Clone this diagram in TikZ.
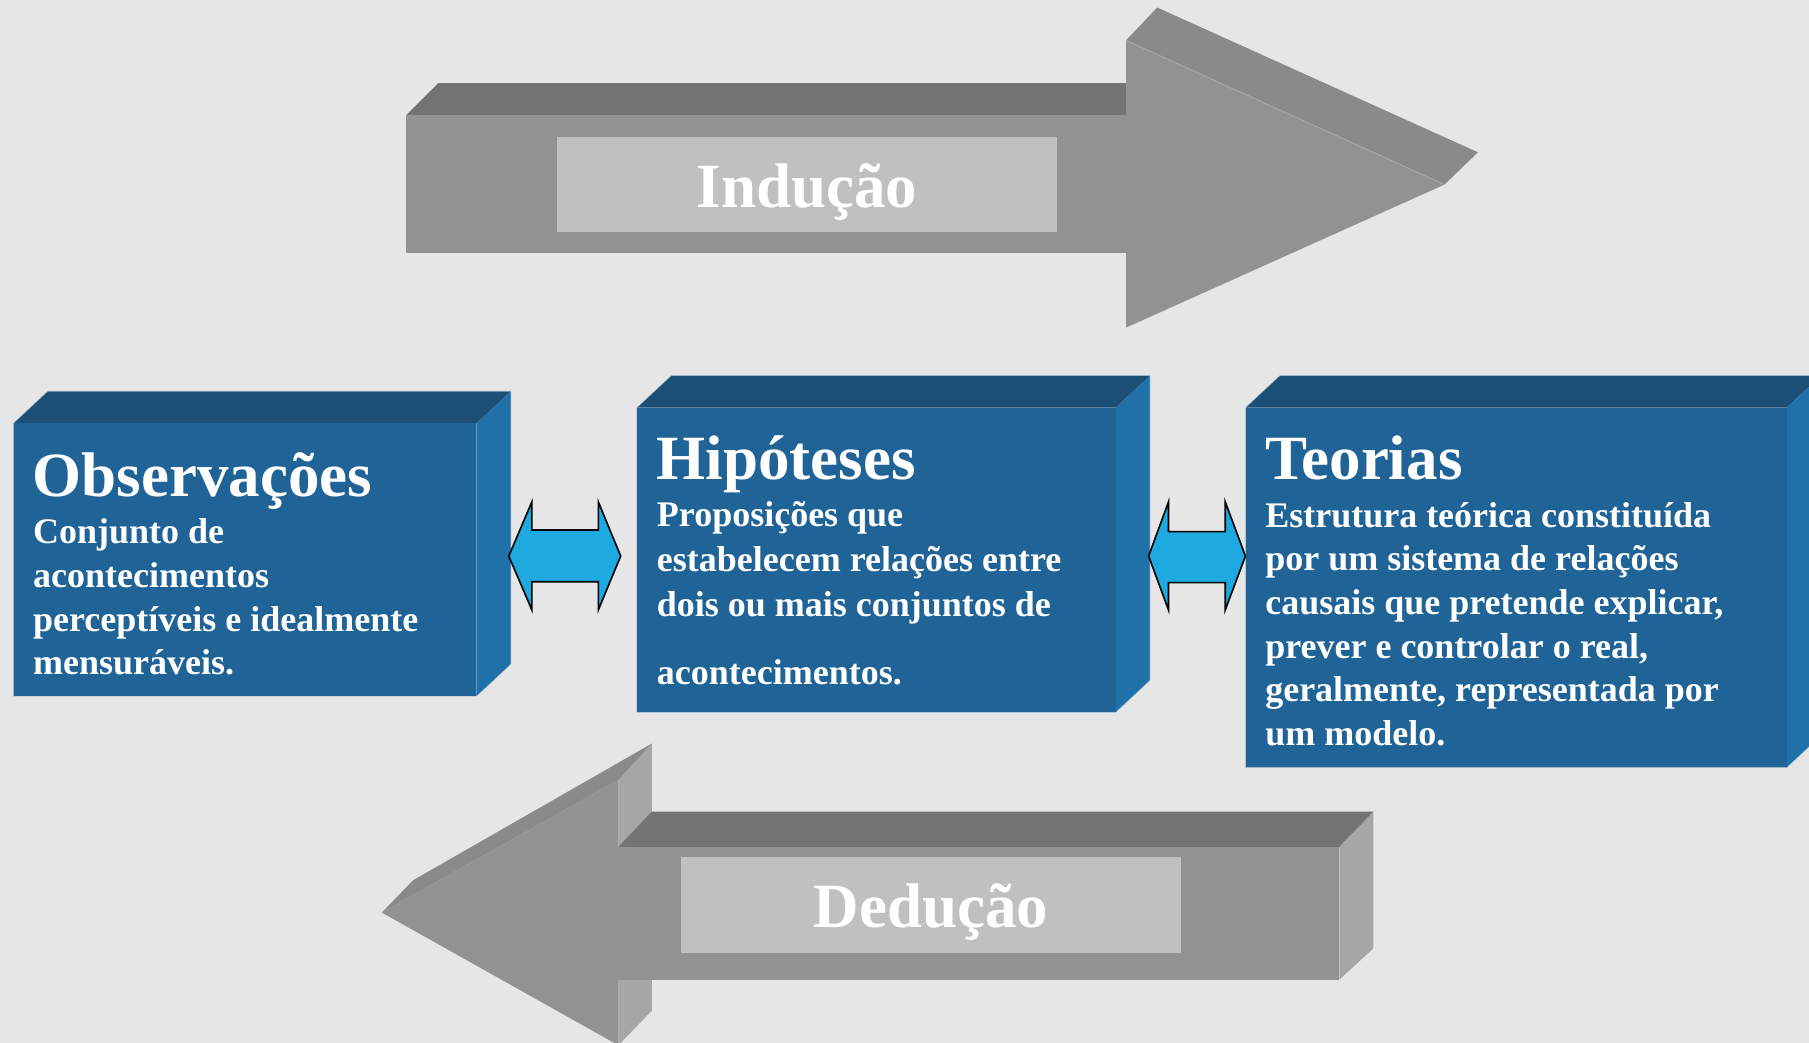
\documentclass[tikz,border=0pt]{standalone}
\usepackage{fontspec}
\setmainfont{Liberation Serif}
\definecolor{bgc}{HTML}{E6E6E6}
\definecolor{gfront}{HTML}{929292}
\definecolor{gtop}{HTML}{737373}
\definecolor{gslant}{HTML}{8A8A8A}
\definecolor{gside}{HTML}{A6A6A6}
\definecolor{glabel}{HTML}{C0C0C0}
\definecolor{bfront}{HTML}{1F6397}
\definecolor{btop}{HTML}{1B4F76}
\definecolor{bside}{HTML}{2070AA}
\definecolor{bedge}{HTML}{9DB4C6}
\definecolor{cyanarr}{HTML}{1EAAE1}
\begin{document}
\begin{tikzpicture}[x=1pt,y=-1pt,
  title/.style={anchor=base west,inner sep=0pt,text=white,font=\fontsize{54.6}{60}\selectfont\bfseries},
  body/.style={anchor=base west,inner sep=0pt,text=white,font=\fontsize{31.2}{38}\selectfont\bfseries},
  biglabel/.style={anchor=base,inner sep=0pt,text=white,font=\fontsize{54.6}{60}\selectfont\bfseries},
  dblarrow/.style={fill=cyanarr,draw=black,line width=1.4pt,line join=miter}]
\useasboundingbox (0,0) rectangle (1568,904);
\clip (0,0) rectangle (1568,904);
\fill[bgc] (0,0) rectangle (1568,904);

% ---------- top arrow (Indução) ----------
\fill[gtop] (352,100) -- (380,72) -- (976,72) -- (976,100) -- cycle;
\fill[gfront] (352,100) rectangle (976,219);
\fill[gslant] (976,35) -- (1003,6.5) -- (1281,132) -- (1252,160) -- cycle;
\fill[gfront] (976,35) -- (1252,160) -- (976,284) -- cycle;
\draw[gfront!80!white,line width=0.8pt] (976,35) -- (1252,160);
\fill[glabel] (483,119) rectangle (916,201.5);
\node[biglabel] (ind) at (699.5,179.7) {Indução};

% ---------- bottom arrow (Dedução) ----------
\fill[gside] (536,676) -- (565,644.5) -- (565,876) -- (536,906) -- cycle;
\fill[gslant] (536,676) -- (565,644.5) -- (358,763) -- (331,791) -- cycle;
\fill[gfront] (536,676) -- (331,791) -- (536,906) -- cycle;
\fill[gtop] (536,734) -- (565,703.5) -- (1190.5,703.5) -- (1161,734) -- cycle;
\fill[gfront] (536,734) rectangle (1161,849);
\fill[gside] (1161,734) -- (1190.5,703.5) -- (1190.5,822) -- (1161,849) -- cycle;
\fill[glabel] (590.3,743) rectangle (1023.7,825.7);
\node[biglabel] (ded) at (807,803.8) {Dedução};

% ---------- blue boxes ----------
\newcommand{\bluebox}[4]{%
  \draw[bedge,line width=1.2pt] (#1,#2) -- ++(29.5,-27.5) -- (#3+29.5,#2-27.5) -- (#3+29.5,#4-27.5) -- (#3,#4) -- (#1,#4) -- cycle;
  \fill[btop] (#1,#2) -- ++(29.5,-27.5) -- (#3+29.5,#2-27.5) -- (#3,#2) -- cycle;
  \fill[bside] (#3,#2) -- ++(29.5,-27.5) -- (#3+29.5,#4-27.5) -- (#3,#4) -- cycle;
  \fill[bfront] (#1,#2) rectangle (#3,#4);
}
\bluebox{12}{367}{413}{603}
\bluebox{552.5}{353.4}{967}{617}
\bluebox{1080}{353.4}{1548.5}{665}

% Observações
\node[title] (obs) at (28.3,430) {Observações};
\node[body] (obs1) at (28.5,471.5) {Conjunto de};
\node[body] (obs2) at (28.5,509.3) {acontecimentos};
\node[body] (obs3) at (28.5,547.1) {perceptíveis e idealmente};
\node[body] (obs4) at (28.5,585) {mensuráveis.};

% Hipóteses
\node[title] (hip) at (569.2,416) {Hipóteses};
\node[body] (hip1) at (569.2,456.5) {Proposições que};
\node[body] (hip2) at (569.2,495.5) {estabelecem relações entre};
\node[body] (hip3) at (569.2,534.5) {dois ou mais conjuntos de};
\node[body] (hip4) at (569.2,593.7) {acontecimentos.};

% Teorias
\node[title] (teo) at (1096.5,415.2) {Teorias};
\node[body] (teo1) at (1096.5,457) {Estrutura teórica constituída};
\node[body] (teo2) at (1096.5,494.8) {por um sistema de relações};
\node[body] (teo3) at (1096.5,532.6) {causais que pretende explicar,};
\node[body] (teo4) at (1096.5,570.4) {prever e controlar o real,};
\node[body] (teo5) at (1096.5,608.2) {geralmente, representada por};
\node[body] (teo6) at (1096.5,646) {um modelo.};

% ---------- double arrows ----------
\draw[dblarrow] (441,482) -- (461,435) -- (461,459.4) -- (518.6,459.4) -- (518.6,435) -- (538,482)
  -- (518.6,528.7) -- (518.6,504.2) -- (461,504.2) -- (461,528.7) -- cycle;
\draw[dblarrow] (995.6,482) -- (1012.8,435) -- (1012.8,460.8) -- (1062,460.8) -- (1062,435) -- (1079.5,482)
  -- (1062,528.7) -- (1062,505) -- (1012.8,505) -- (1012.8,528.7) -- cycle;
\end{tikzpicture}
\end{document}
